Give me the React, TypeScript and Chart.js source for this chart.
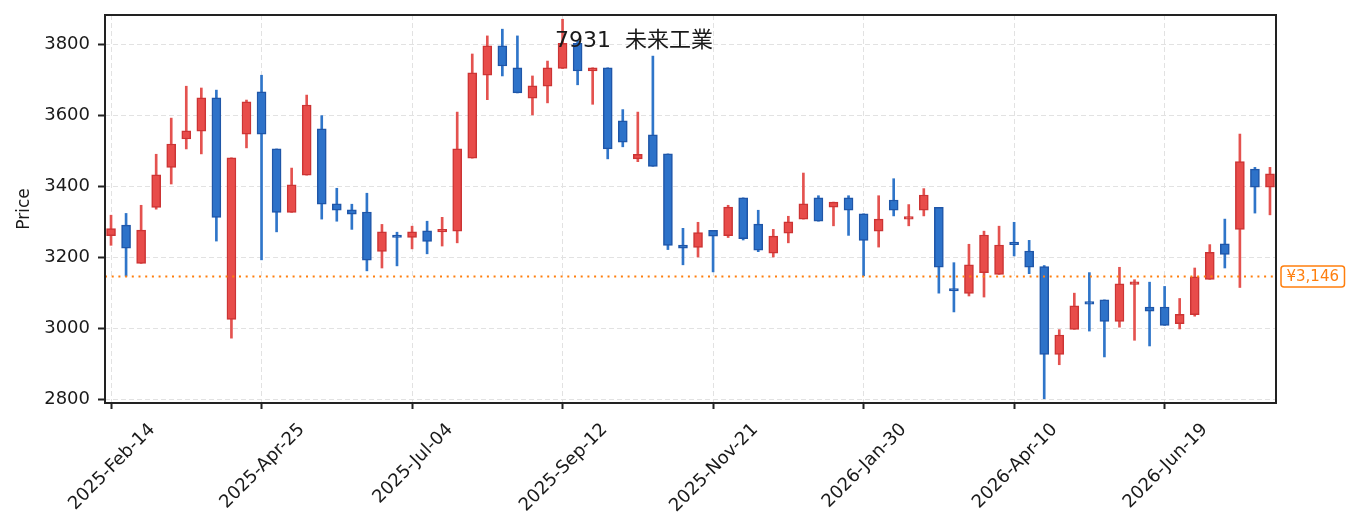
import React, { useEffect, useRef } from "react";
import { Chart, registerables, Plugin } from "chart.js";

Chart.register(...registerables);

// weekly candles, 2025-02-14 .. 2026-08-07
const opens = [
  3261, 3291, 3183, 3341, 3454, 3534, 3556, 3650, 3025, 3548,
  3667, 3506, 3327, 3432, 3563, 3351, 3334, 3328, 3217, 3258,
  3256, 3275, 3272, 3274, 3480, 3714, 3797, 3735, 3649, 3683,
  3733, 3804, 3726, 3735, 3585, 3478, 3546, 3492, 3235, 3228,
  3276, 3261, 3368, 3294, 3212, 3268, 3308, 3368, 3342, 3368,
  3323, 3274, 3362, 3308, 3333, 3341, 3107, 3098, 3157, 3152,
  3238, 3218, 3174, 2926, 2997, 3072, 3080, 3019, 3124, 3060,
  3060, 3013, 3038, 3138, 3238, 3279, 3449, 3398,
];
const highs = [
  3319, 3324, 3347, 3491, 3593, 3683, 3678, 3672, 3481, 3644,
  3714, 3506, 3452, 3658, 3600, 3395, 3350, 3381, 3293, 3271,
  3288, 3302, 3313, 3610, 3774, 3825, 3844, 3825, 3712, 3754,
  3872, 3812, 3735, 3735, 3617, 3610, 3768, 3492, 3282, 3299,
  3276, 3347, 3368, 3333, 3279, 3316, 3438, 3374, 3356, 3374,
  3323, 3374, 3422, 3349, 3394, 3341, 3185, 3237, 3274, 3288,
  3299, 3248, 3177, 2996, 3099, 3157, 3080, 3172, 3137, 3130,
  3118, 3084, 3170, 3236, 3308, 3548, 3454, 3454,
];
const lows = [
  3234, 3147, 3183, 3336, 3407, 3506, 3492, 3246, 2972, 3509,
  3193, 3272, 3327, 3432, 3308, 3302, 3279, 3162, 3170, 3176,
  3224, 3210, 3232, 3241, 3480, 3645, 3712, 3664, 3602, 3636,
  3733, 3687, 3632, 3478, 3512, 3470, 3457, 3222, 3179, 3201,
  3159, 3256, 3249, 3216, 3201, 3241, 3308, 3302, 3289, 3262,
  3148, 3229, 3317, 3289, 3317, 3099, 3046, 3091, 3088, 3152,
  3204, 3154, 2801, 2897, 2997, 2992, 2919, 3003, 2966, 2950,
  3008, 2998, 3034, 3138, 3170, 3115, 3325, 3320,
];
const closes = [
  3281, 3226, 3277, 3433, 3520, 3557, 3650, 3313, 3481, 3639,
  3548, 3327, 3405, 3630, 3350, 3333, 3322, 3192, 3272, 3256,
  3272, 3245, 3276, 3506, 3721, 3797, 3740, 3664, 3684, 3735,
  3804, 3726, 3735, 3506, 3525, 3491, 3457, 3234, 3226, 3270,
  3260, 3342, 3253, 3220, 3260, 3300, 3351, 3302, 3356, 3333,
  3248, 3308, 3333, 3314, 3376, 3172, 3105, 3179, 3263, 3235,
  3236, 3172, 2926, 2981, 3063, 3068, 3019, 3125, 3131, 3048,
  3008, 3039, 3145, 3214, 3208, 3470, 3398, 3436,
];

const tickIndexes = [0, 10, 20, 30, 40, 50, 60, 70];
const tickLabels = [
  "2025-Feb-14",
  "2025-Apr-25",
  "2025-Jul-04",
  "2025-Sep-12",
  "2025-Nov-21",
  "2026-Jan-30",
  "2026-Apr-10",
  "2026-Jun-19",
];
const yTicks = [2800, 3000, 3200, 3400, 3600, 3800];
const lastPrice = 3146;
const titleText = "7931  未来工業";

const RED_FILL = "#e84c4a";
const RED_EDGE = "#cc3434";
const RED_WICK = "#e4524f";
const BLUE_FILL = "#2d72c9";
const BLUE_EDGE = "#1f56a8";
const BLUE_WICK = "#2f75c9";
const ORANGE = "#ff7f0e";
const TEXT = "#1a1a1a";
const GRID = "#e2e2e2";
const FONT = "'DejaVu Sans', 'Noto Sans CJK JP', sans-serif";

const isUp = (i: number) => closes[i] >= opens[i];

const overlay: Plugin = {
  id: "overlay",
  afterDatasetsDraw(chart) {
    const { ctx, chartArea: a, scales } = chart;
    const y = scales.y.getPixelForValue(lastPrice);
    ctx.save();
    ctx.strokeStyle = ORANGE;
    ctx.lineWidth = 2;
    ctx.setLineDash([2, 4.7]);
    ctx.beginPath();
    ctx.moveTo(a.left, y);
    ctx.lineTo(a.right, y);
    ctx.stroke();
    ctx.restore();
  },
  afterDraw(chart) {
    const { ctx, chartArea: a, scales } = chart;
    ctx.save();

    // frame
    ctx.strokeStyle = "#222";
    ctx.lineWidth = 2;
    ctx.strokeRect(a.left, a.top, a.right - a.left, a.bottom - a.top);

    // rotated date labels, centred under each tick
    ctx.fillStyle = TEXT;
    ctx.font = `18px ${FONT}`;
    ctx.textAlign = "center";
    ctx.textBaseline = "middle";
    tickIndexes.forEach((idx, k) => {
      const px = scales.x.getPixelForValue(idx);
      const w = ctx.measureText(tickLabels[k]).width;
      const cy = a.bottom + 19 + (w + 14) * 0.3536;
      ctx.save();
      ctx.translate(px + 1, cy);
      ctx.rotate(-Math.PI / 4);
      ctx.fillText(tickLabels[k], 0, 0);
      ctx.restore();
    });

    // y axis title
    ctx.save();
    ctx.font = `17px ${FONT}`;
    ctx.translate(25, (a.top + a.bottom) / 2);
    ctx.rotate(-Math.PI / 2);
    ctx.fillText("Price", 0, 0);
    ctx.restore();

    // chart title
    ctx.font = `22px ${FONT}`;
    ctx.fillText(titleText, 634, 41);

    // last price tag
    const y = scales.y.getPixelForValue(lastPrice);
    const label = "¥" + lastPrice.toLocaleString("en-US");
    ctx.font = `15px ${FONT}`;
    const tw = ctx.measureText(label).width;
    const bx = a.right + 5;
    const bw = tw + 11;
    const bh = 21;
    ctx.fillStyle = "#fff";
    ctx.strokeStyle = ORANGE;
    ctx.lineWidth = 1.5;
    ctx.beginPath();
    ctx.roundRect(bx, y - bh / 2, bw, bh, 3);
    ctx.fill();
    ctx.stroke();
    ctx.fillStyle = ORANGE;
    ctx.textAlign = "left";
    ctx.fillText(label, bx + 5.5, y + 1);

    ctx.restore();
  },
};

export default function App() {
  const canvasRef = useRef<HTMLCanvasElement | null>(null);
  const chartRef = useRef<Chart | null>(null);

  useEffect(() => {
    document.body.style.margin = "0";
    if (!canvasRef.current) return;
    const ctx = canvasRef.current.getContext("2d");
    if (!ctx) return;

    if (chartRef.current) chartRef.current.destroy();

    const idx = opens.map((_, i) => i);

    chartRef.current = new Chart(ctx, {
      type: "bar",
      data: {
        datasets: [
          {
            label: "body",
            data: idx.map((i) => ({
              x: i,
              y: [Math.min(opens[i], closes[i]), Math.max(opens[i], closes[i])],
            })) as any,
            backgroundColor: idx.map((i) => (isUp(i) ? RED_FILL : BLUE_FILL)),
            borderColor: idx.map((i) => (isUp(i) ? RED_EDGE : BLUE_EDGE)),
            borderWidth: 1.5,
            borderSkipped: false,
            barThickness: 9,
            minBarLength: 2.5,
            grouped: false,
            order: 0,
          },
          {
            label: "wick",
            data: idx.map((i) => ({ x: i, y: [lows[i], highs[i]] })) as any,
            backgroundColor: idx.map((i) => (isUp(i) ? RED_WICK : BLUE_WICK)),
            borderWidth: 0,
            barThickness: 2,
            grouped: false,
            order: 1,
          },
        ],
      },
      options: {
        animation: false,
        responsive: false,
        maintainAspectRatio: false,
        layout: { padding: { top: 15, right: 79, bottom: 0, left: 0 } },
        plugins: {
          legend: { display: false },
          tooltip: { enabled: false },
          title: { display: false },
        },
        scales: {
          x: {
            type: "linear",
            min: -0.4,
            max: 77.4,
            offset: false,
            afterBuildTicks: (s) => {
              s.ticks = tickIndexes.map((v) => ({ value: v }));
            },
            afterFit: (s) => {
              s.height = 129;
              s.paddingLeft = 0;
              s.paddingRight = 0;
            },
            ticks: { display: false },
            grid: {
              offset: false,
              color: GRID,
              lineWidth: 1,
              drawTicks: true,
              tickLength: 6,
              tickColor: "#222",
              tickWidth: 2,
            },
            border: { display: false, dash: [5, 3] },
          },
          y: {
            type: "linear",
            min: 2789,
            max: 3884,
            afterBuildTicks: (s) => {
              s.ticks = yTicks.map((v) => ({ value: v }));
            },
            afterFit: (s) => {
              s.width = 105;
              s.paddingTop = 0;
              s.paddingBottom = 0;
            },
            ticks: {
              color: TEXT,
              font: { family: FONT, size: 18 },
              padding: 8,
              callback: (v) => String(v),
            },
            grid: {
              color: GRID,
              lineWidth: 1,
              drawTicks: true,
              tickLength: 7,
              tickColor: "#222",
              tickWidth: 2,
            },
            border: { display: false, dash: [5, 3] },
          },
        },
      },
      plugins: [overlay],
    });

    return () => {
      if (chartRef.current) {
        chartRef.current.destroy();
        chartRef.current = null;
      }
    };
  }, []);

  return (
    <div style={{ width: 1355, height: 532 }}>
      <canvas
        ref={canvasRef}
        width={1355}
        height={532}
        style={{ display: "block", width: 1355, height: 532 }}
      />
    </div>
  );
}
